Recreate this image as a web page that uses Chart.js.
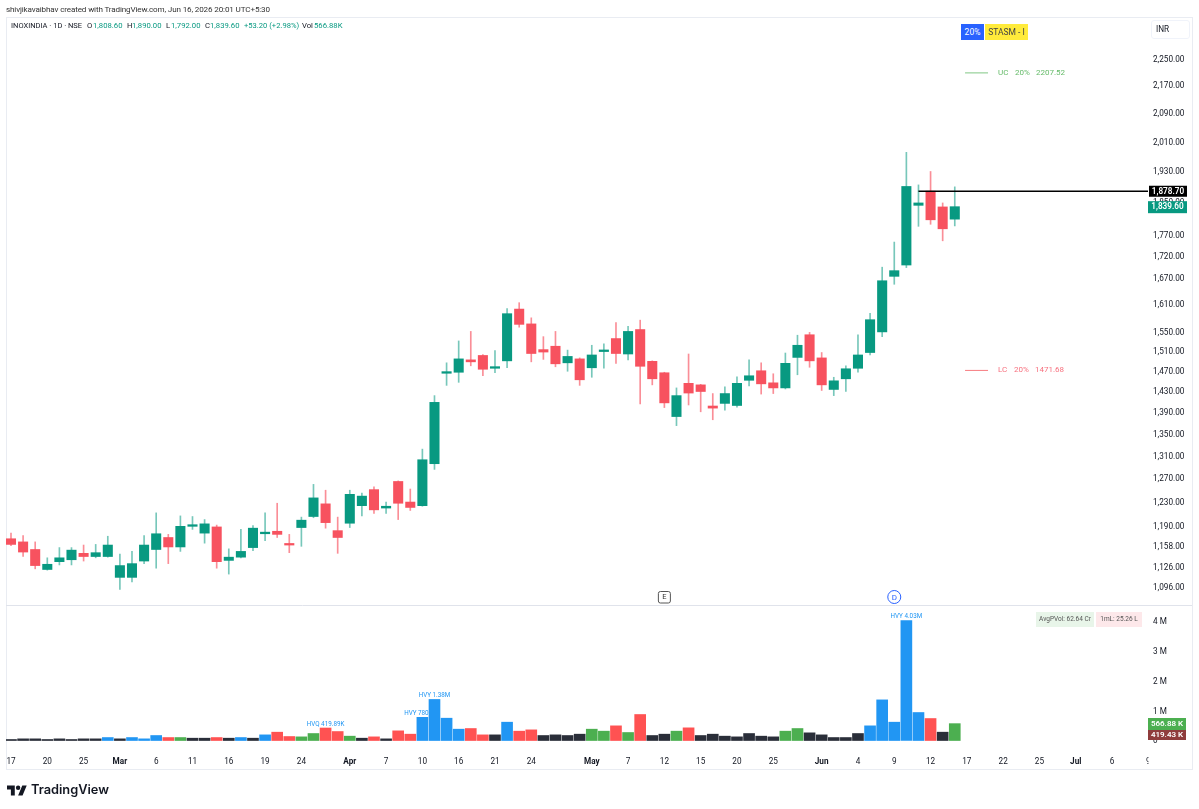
<!DOCTYPE html>
<html>
<head>
<meta charset="utf-8">
<script src="https://cdn.jsdelivr.net/npm/chart.js@4"></script>
<style>
html,body{margin:0;padding:0;background:#fff;overflow:hidden}
body{width:1199px;height:809px;position:relative;font-family:Roboto,sans-serif}
canvas{position:absolute;left:0;top:0}
.t{position:absolute;white-space:nowrap;line-height:1}
#credit{left:6px;top:4.5px;font-size:8.1px;letter-spacing:-0.14px;color:#333}
#badge1{left:961px;top:24px;width:23px;height:16px;background:#2962ff;color:#fff;font-size:8.5px;line-height:16px;text-align:center}
#badge2{left:985px;top:24px;width:43px;height:16px;background:#ffeb3b;color:#444;font-size:8.5px;line-height:16px;text-align:center}
#inr{left:1151px;top:20px;height:17px;border:1px solid #f0f3fa;border-radius:3px;color:#131722;font-size:8.2px;line-height:17px;padding-left:4px;width:33px}
#logo{position:absolute;left:7px;top:784.5px;width:20px;height:11px}
#brand{left:31px;top:782px;font-family:Inter,sans-serif;font-weight:600;font-size:12.8px;color:#131722;line-height:16px}
</style>
</head>
<body>
<canvas id="c" width="1199" height="809"></canvas>
<div class="t" id="credit">shivjikavaibhav created with TradingView.com, Jun 16, 2026 20:01 UTC+5:30</div>
<div class="t" id="badge1">20%</div>
<div class="t" id="badge2">STASM - I</div>
<div class="t" id="inr">INR</div>
<svg id="logo" viewBox="0 0 36 18"><path fill="#131722" d="M14 18H7V7H0V0h14v18zM28 18h-8L27.5 0h8L28 18z"/><circle fill="#131722" cx="20" cy="4" r="4"/></svg>
<div class="t" id="brand">TradingView</div>
<script>
const opens  = [1170,1165,1153,1122,1134,1137,1147,1142,1142,1110,1110,1135,1153,1172,1157,1190,1179,1189,1136,1141,1156,1178,1182,1161,1188,1206,1227,1183,1195,1224,1251,1220,1265,1230,1224,1296,1466,1468,1493,1502,1476,1491,1600,1568,1514,1521,1487,1495,1477,1510,1537,1505,1556,1490,1467,1382,1446,1443,1402,1407,1403,1452,1471,1447,1437,1498,1545,1497,1434,1455,1476,1508,1551,1673,1699,1843,1879,1839,1808.6];
const highs  = [1179,1175,1165,1140,1156,1156,1160,1161,1174,1146,1150,1175,1212,1177,1207,1206,1201,1192,1154,1185,1191,1212,1228,1177,1205,1260,1250,1205,1250,1245,1256,1230,1266,1252,1322,1422,1487,1532,1552,1504,1512,1601,1614,1581,1541,1552,1513,1497,1523,1526,1571,1563,1576,1491,1468,1437,1505,1444,1426,1439,1459,1493,1487,1465,1507,1544,1550,1508,1458,1481,1545,1591,1694,1753,1981,1895,1930,1849,1890];
const lows   = [1159,1142,1123,1121,1129,1129,1135,1140,1141,1092,1103,1131,1124,1131,1150,1185,1163,1124,1115,1140,1151,1167,1172,1148,1158,1204,1187,1147,1188,1207,1211,1211,1201,1216,1223,1286,1442,1448,1481,1461,1467,1477,1561,1489,1494,1479,1470,1442,1458,1476,1486,1493,1406,1443,1399,1365,1404,1391,1376,1394,1400,1441,1425,1426,1435,1463,1478,1432,1422,1430,1468,1503,1541,1655,1693,1791,1796,1756,1792];
const closes = [1161,1149,1128,1130,1140,1152,1142,1148,1160,1128,1131,1160,1178,1157,1190,1192,1194,1134,1141,1150,1187,1180,1177,1160,1200,1237,1196,1172,1243,1240,1217,1223,1228,1221,1303,1409,1467,1495,1489,1474,1479,1590,1567,1506,1509,1485,1500,1453,1503,1512,1506,1552,1480,1455,1408,1422,1427,1430,1398,1426,1446,1461,1445,1437,1486,1523,1491,1443,1451,1475,1503,1577,1663,1686,1891,1849,1807,1785,1839.6];
const volumes = [34,56,56,34,56,34,56,56,100,56,100,56,168,100,100,78,78,100,78,100,78,190,280,134,123,235,420,302,146,78,123,56,325,213,780,1380,750,381,403,190,190,616,314,358,168,190,168,213,381,314,493,269,874,168,213,314,426,168,213,146,123,235,146,123,314,403,258,190,100,100,235,493,1366,616,4030,941,739,280,566.88];
const volumeKinds = "kkkkkkkkbkbbbrgkkrkbkbrrggrrgkrkrrbbbbrrkbrrkkkkggrgrkkgrkkkkkkkggkkkkkbbbbbrkg";
const priceTicks = [2250,2170,2090,2010,1930,1850,1770,1720,1670,1610,1550,1510,1470,1430,1390,1350,1310,1270,1230,1190,1158,1126,1096];
const volumeTicks = [0,1000,2000,3000,4000];
const volumeTickLabels = ["0","1 M","2 M","3 M","4 M"];
const xTickIndex = [0,3,6,9,12,15,18,21,24,28,31,34,37,40,43,48,51,54,57,60,63,67,70,73,76,79,82,85,88,91,94];
const xTickLabels = ["17","20","25","Mar","6","11","16","19","24","Apr","7","10","16","21","24","May","7","12","15","20","25","Jun","4","9","12","17","22","25","Jul","6","9"];
const closeLevel = 1878.70, lastClose = 1839.60, upperCircuit = 2207.52, lowerCircuit = 1471.68;
const heavyLabels = [[26,"HVQ 419.89K"],[34,"HVY 780"],[35,"HVY 1.38M"],[74,"HVY 4.03M"]];

const FONT = 'Roboto,sans-serif';
const UP = '#089981', DOWN = '#f7525f';
const kindColor = {k:'#2a2e39', b:'#2196f3', r:'#ff5252', g:'#4caf50'};
const isUp = i => closes[i] >= opens[i];

const indexRange = opens.map((_, i) => i);
const wicks = indexRange.map(i => ({x:i, y:[lows[i], highs[i]]}));
const bodies = indexRange.map(i => ({x:i, y:[Math.min(opens[i],closes[i]), Math.max(opens[i],closes[i])]}));
const vols = volumes.map((v,i) => ({x:i, y:v}));

function text(ctx, s, x, y, color, size, align, weight){
  ctx.font = (weight?weight+' ':'') + size + 'px ' + FONT;
  ctx.fillStyle = color;
  ctx.textAlign = align || 'left';
  ctx.textBaseline = 'middle';
  ctx.fillText(s, x, y);
}
function box(ctx, x, y, w, h, c){ ctx.fillStyle = c; ctx.fillRect(x,y,w,h); }

const chrome = {
  id:'chrome',
  beforeDraw(chart){
    const c = chart.ctx;
    c.save();
    box(c,0,0,1199,809,'#fff');
    c.strokeStyle = '#e9ecf2'; c.lineWidth = 1;
    c.strokeRect(6.5,17.5,1186,752);
    c.beginPath(); c.moveTo(6,605.5); c.lineTo(1192,605.5); c.strokeStyle='#e0e3eb'; c.stroke();
    c.restore();
  },
  afterDraw(chart){
    const c = chart.ctx, sx = chart.scales.x, sy = chart.scales.y, sv = chart.scales.yv;
    c.save();
    // clip last date label at the price axis
    box(c,1148.5,746,40,20,'#fff');
    // legend row
    let y = 26.5;
    text(c,'INOXINDIA · 1D · NSE',11,y,'#131722',7.5);
    [['O',87,'1,808.60',93],['H',127,'1,890.00',132],['L',166,'1,792.00',171],['C',205,'1,839.60',210]].forEach(r=>{
      text(c,r[0],r[1],y,'#131722',7.7); text(c,r[2],r[3],y,UP,7.7);
    });
    text(c,'+53.20 (+2.98%)',244,y,UP,7.6);
    text(c,'Vol',302,y,'#131722',7.7);
    text(c,'566.88K',314,y,UP,7.7);
    // heavy volume labels
    heavyLabels.forEach(h=>{
      const px = sx.getPixelForValue(h[0]), py = sv.getPixelForValue(volumes[h[0]]);
      const dx = h[0]===34 ? -6 : 0;
      text(c,h[1],px+dx,py-4,'#2196f3',6.3,'center');
    });
    // UC / LC text
    const uy = sy.getPixelForValue(upperCircuit), ly = sy.getPixelForValue(lowerCircuit);
    const G='#66bb6a', R='#f7717f';
    text(c,'UC',998,uy,G,8); text(c,'20%',1015,uy,G,8); text(c,upperCircuit.toFixed(2),1036,uy,G,8);
    text(c,'LC',998,ly,R,8); text(c,'20%',1014,ly,R,8); text(c,lowerCircuit.toFixed(2),1035,ly,R,8);
    // E and D events
    const ex = sx.getPixelForValue(54), dx = sx.getPixelForValue(73);
    c.strokeStyle='#555'; c.lineWidth=1;
    c.beginPath(); c.roundRect(ex-6,591.5,12,11.5,2); c.stroke();
    text(c,'E',ex,597.5,'#333',7.5,'center');
    c.strokeStyle='#2962ff'; c.lineWidth=1;
    c.beginPath(); c.arc(dx,597,6.5,0,Math.PI*2); c.stroke();
    text(c,'D',dx,597.5,'#2962ff',8,'center');
    // stat boxes
    box(c,1036,612,58,15,'#e8f5e9'); text(c,'AvgPVol: 62.64 Cr',1065,619.5,'#555',6.5,'center');
    box(c,1096,612,46,15,'#fde8ea'); text(c,'1mL: 25.26 L',1119,619.5,'#555',6.5,'center');
    // price tags
    const ca = sy.getPixelForValue(closeLevel), la = sy.getPixelForValue(lastClose);
    box(c,1149,ca-5.5,38,11,'#000'); text(c,closeLevel.toLocaleString('en-US',{minimumFractionDigits:2}),1168,ca+.3,'#fff',8.2,'center',600);
    box(c,1148,la-5.5,39,12,UP); text(c,lastClose.toLocaleString('en-US',{minimumFractionDigits:2}),1167.5,la+.5,'#fff',8.2,'center',600);
    // volume tags
    box(c,1148,718,38,12,'#4caf50'); text(c,'566.88 K',1167,724,'#fff',8,'center',600);
    box(c,1148,730,38,10,'#8f3c3c'); text(c,'419.43 K',1167,735,'#fff',8,'center',600);
    c.restore();
  }
};

new Chart(document.getElementById('c'), {
  data:{
    datasets:[
      {type:'line', xAxisID:'x', yAxisID:'y', data:[{x:75,y:closeLevel},{x:93.97,y:closeLevel}], borderColor:'#000', borderWidth:1.6, pointRadius:0},
      {type:'line', xAxisID:'x', yAxisID:'y', data:[{x:78.85,y:upperCircuit},{x:80.75,y:upperCircuit}], borderColor:'#81c784', borderWidth:1, pointRadius:0},
      {type:'line', xAxisID:'x', yAxisID:'y', data:[{x:78.85,y:lowerCircuit},{x:80.75,y:lowerCircuit}], borderColor:'#f77c80', borderWidth:1, pointRadius:0},
      {type:'bar', xAxisID:'x', yAxisID:'y', data:bodies, grouped:false, barThickness:9.4, backgroundColor:bodies.map((_,i)=>isUp(i)?UP:DOWN), borderWidth:0, minBarLength:1.6},
      {type:'bar', xAxisID:'x', yAxisID:'y', data:wicks, grouped:false, barThickness:1, backgroundColor:wicks.map((_,i)=>isUp(i)?'rgba(8,153,129,.55)':'rgba(247,82,95,.65)'), borderWidth:0},
      {type:'bar', xAxisID:'x', yAxisID:'yv', data:vols, grouped:false, barThickness:11, backgroundColor:volumes.map((_,i)=>kindColor[volumeKinds[i]]), borderWidth:0}
    ]
  },
  options:{
    responsive:false, animation:false, devicePixelRatio:1,
    layout:{padding:{left:6,top:18,right:7,bottom:39}},
    plugins:{legend:{display:false},tooltip:{enabled:false}},
    scales:{
      x:{
        type:'linear', position:'bottom', offset:false, min:-0.413, max:93.97,
        grid:{display:false,drawTicks:false,tickLength:0,offset:false}, border:{display:false},
        afterBuildTicks(s){ s.ticks = xTickIndex.map(v=>({value:v})); },
        afterFit(s){ s.height = 28; s.paddingLeft=0; s.paddingRight=0; },
        ticks:{autoSkip:false,maxRotation:0,minRotation:0,padding:15,color:'#131722',
          font:ctx=>{ const l=xTickLabels[ctx.index]; return {family:FONT,size:8.2,weight:/^[A-Z]/.test(l||'')?'bold':'normal'}; },
          callback:(v,i)=>xTickLabels[i]}
      },
      y:{
        type:'logarithmic', position:'right', stack:'panes', stackWeight:587,
        grid:{display:false,drawTicks:false,tickLength:0}, border:{display:false},
        min:1069, max:2379,
        afterBuildTicks(s){ s.ticks = priceTicks.map(v=>({value:v})); },
        afterFit(s){ s.width = 44; },
        ticks:{autoSkip:false,padding:5,labelOffset:0.8,color:'#131722',font:{family:FONT,size:8.2},
          callback:v=>Number(v).toLocaleString('en-US',{minimumFractionDigits:2})}
      },
      yv:{
        type:'linear', position:'right', stack:'panes', stackWeight:137, min:-50, max:4555,
        grid:{display:false,drawTicks:false,tickLength:0}, border:{display:false},
        afterBuildTicks(s){ s.ticks = volumeTicks.map(v=>({value:v})); },
        afterFit(s){ s.width = 44; },
        ticks:{autoSkip:false,padding:5,labelOffset:0.8,color:'#131722',font:{family:FONT,size:8.2},
          callback:(v,i)=>volumeTickLabels[i]}
      }
    }
  },
  plugins:[chrome]
});
</script>
</body>
</html>
